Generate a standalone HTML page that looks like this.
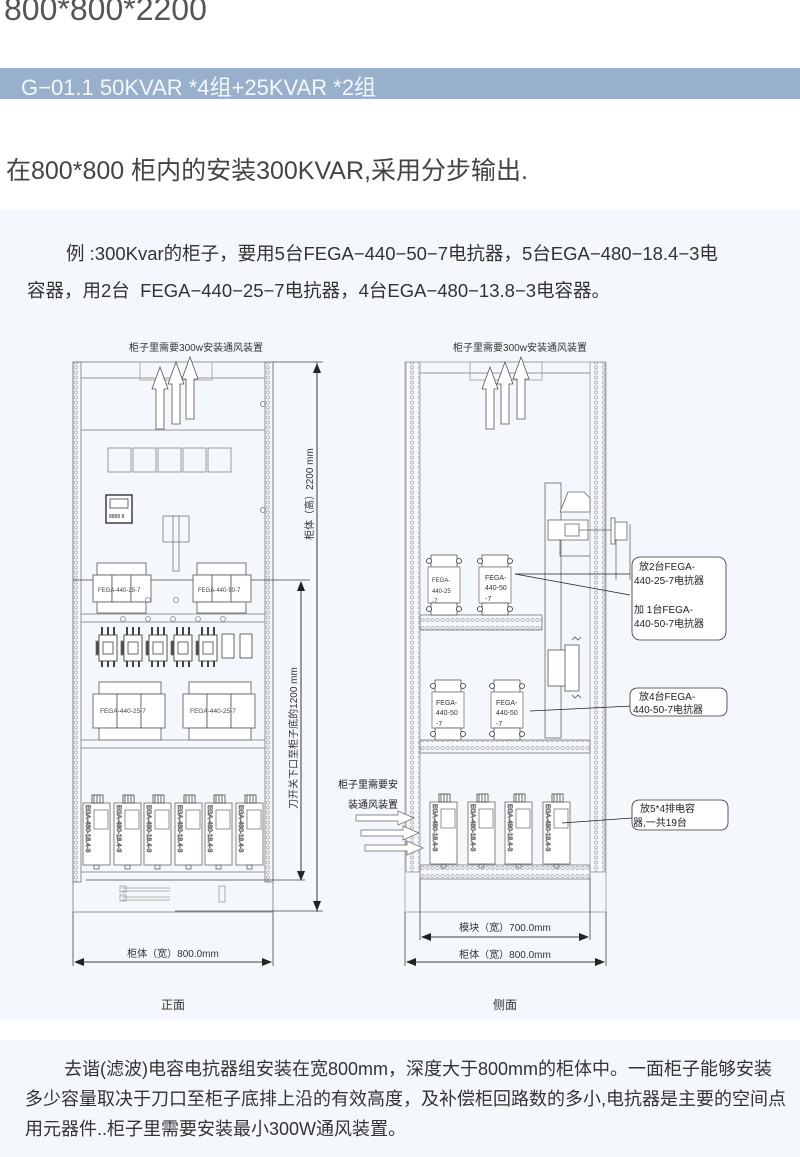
<!DOCTYPE html>
<html><head><meta charset="utf-8"><style>
body{margin:0;width:800px;height:1157px;background:#fff;position:relative;overflow:hidden;font-family:"Liberation Sans","Noto Sans CJK SC",sans-serif;}
.a{position:absolute;white-space:nowrap;}
</style></head><body>
<div class="a" style="left:4px;top:-9px;font-size:32px;color:#555;">800*800*2200</div>
<div class="a" style="left:0;top:68px;width:800px;height:31px;background:#98b0cc;"></div>
<div class="a" style="left:21px;top:70px;font-size:22px;color:#f4f7fb;">G−01.1 50KVAR *4组+25KVAR *2组</div>
<div class="a" style="left:6px;top:151px;font-size:25px;color:#444;">在800*800 柜内的安装300KVAR,采用分步输出.</div>
<div class="a" style="left:0;top:210px;width:800px;height:810px;background:#f4f8fc;"></div>
<div class="a" style="left:0;top:1040px;width:800px;height:117px;background:#f4f8fc;"></div>
<div class="a" style="left:66px;top:240px;font-size:18.5px;color:#333;">例 :300Kvar的柜子，要用5台FEGA−440−50−7电抗器，5台EGA−480−18.4−3电</div>
<div class="a" style="left:27px;top:277px;font-size:18.5px;color:#333;">容器，用2台&nbsp; FEGA−440−25−7电抗器，4台EGA−480−13.8−3电容器。</div>
<div class="a" style="left:64px;top:1055px;font-size:18px;color:#333;">去谐(滤波)电容电抗器组安装在宽800mm，深度大于800mm的柜体中。一面柜子能够安装</div>
<div class="a" style="left:25px;top:1085px;font-size:18px;color:#333;">多少容量取决于刀口至柜子底排上沿的有效高度，及补偿柜回路数的多小,电抗器是主要的空间点</div>
<div class="a" style="left:25px;top:1115px;font-size:18px;color:#333;">用元器件..柜子里需要安装最小300W通风装置。</div>

<svg class="a" style="left:0;top:0" width="800" height="1157" viewBox="0 0 800 1157">
<defs>
<pattern id="dots" width="8" height="5" patternUnits="userSpaceOnUse"><circle cx="4" cy="2.5" r="1.6" fill="none" stroke="#999" stroke-width="0.6"/></pattern>
<pattern id="dotsH" width="5" height="8" patternUnits="userSpaceOnUse"><circle cx="2.5" cy="4" r="1.6" fill="none" stroke="#999" stroke-width="0.6"/></pattern>
<marker id="ar" markerWidth="10" markerHeight="8" refX="9" refY="4" orient="auto" markerUnits="userSpaceOnUse"><path d="M0,0 L10,4 L0,8 Z" fill="#222"/></marker>
<g id="upar"><path d="M-4,0 V-40 H-8 L0,-62 L8,-40 H4 V0 Z" fill="#fff" stroke="#555" stroke-width="0.8"/></g>
<g id="rarr"><path d="M0,-3 H42 V-7 L58,0 L42,7 V3 H0 Z" fill="#fff" stroke="#666" stroke-width="0.7"/></g>
<g id="cont"><rect x="0" y="8" width="18" height="26" fill="#fff" stroke="#444" stroke-width="0.9"/><rect x="4" y="15" width="10" height="12" fill="none" stroke="#444"/><path d="M3,0v8M9,0v8M15,0v8M3,34v6M9,34v6M15,34v6" stroke="#444" stroke-width="2"/><rect x="-3" y="14" width="3" height="14" fill="#444"/></g>
<g id="cap"><rect x="0" y="8" width="27" height="62" fill="#fff" stroke="#666" stroke-width="0.8"/><rect x="9" y="0" width="11" height="8" fill="#fff" stroke="#444"/><path d="M11,0v8M14,0v8M17,0v8" stroke="#444"/><rect x="11" y="15" width="14" height="19" fill="none" stroke="#666" stroke-width="0.7"/><rect x="11" y="70" width="5" height="4" fill="none" stroke="#666"/><text transform="translate(3,10) rotate(90)" font-size="6.5" fill="#333">EGA-480-18.4-3</text></g>
<g id="sreac"><rect x="3" y="0" width="26" height="12" fill="#fff" stroke="#555"/><rect x="0" y="12" width="32" height="36" fill="#fff" stroke="#777" stroke-width="0.8"/><rect x="3" y="48" width="26" height="12" fill="#fff" stroke="#555"/><circle cx="1" cy="6" r="2.5" fill="#fff" stroke="#333"/><circle cx="31" cy="6" r="2.5" fill="#fff" stroke="#333"/><circle cx="1" cy="54" r="2.5" fill="#fff" stroke="#333"/><circle cx="31" cy="54" r="2.5" fill="#fff" stroke="#333"/></g>
</defs>
<g font-family="Liberation Sans, Noto Sans CJK SC, sans-serif" fill="none" stroke="#777" stroke-width="0.8">
<text x="196" y="351" font-size="10" fill="#333" stroke="none" text-anchor="middle">柜子里需要300w安装通风装置</text>
<rect x="73" y="362" width="200" height="550"/>
<rect x="73" y="362" width="8" height="520" fill="url(#dots)"/>
<rect x="265" y="362" width="8" height="520" fill="url(#dots)"/>
<line x1="81" y1="378" x2="265" y2="378"/>
<line x1="81" y1="430" x2="265" y2="430"/>
<rect x="140" y="362" width="72" height="18" stroke="#999"/>
<use href="#upar" x="160" y="429"/><use href="#upar" x="176" y="424"/><use href="#upar" x="190" y="419"/>
<g stroke="#888"><rect x="108" y="448" width="23" height="24"/><rect x="133" y="448" width="23" height="24"/><rect x="158" y="448" width="23" height="24"/><rect x="183" y="448" width="23" height="24"/><rect x="208" y="448" width="23" height="24"/></g>
<rect x="106" y="495" width="26" height="28" stroke="#222" stroke-width="1.3" fill="#fff"/>
<rect x="110" y="499" width="18" height="9" stroke="#444"/>
<text x="109" y="518" font-size="5" fill="#222" stroke="none">8888 8</text>
<rect x="163" y="516" width="26" height="26"/><rect x="173" y="516" width="6" height="55"/>
<circle cx="263" cy="404" r="2.5"/><circle cx="263" cy="510" r="2.5"/>
<line x1="73" y1="580" x2="310" y2="580" stroke="#444"/>
<g id="rx1" stroke="#555"><rect x="97" y="563" width="49" height="12" fill="#fff"/><rect x="93" y="575" width="19" height="27" fill="#fff"/><rect x="112" y="575" width="19" height="27" fill="#fff"/><rect x="131" y="575" width="20" height="27" fill="#fff"/><rect x="97" y="602" width="49" height="11" fill="#fff"/></g>
<text x="98" y="592" font-size="6" fill="#444" stroke="none">FEGA-440-25-7</text>
<use href="#rx1" x="100"/>
<text x="198" y="592" font-size="6" fill="#444" stroke="none">FEGA-440-50-7</text>
<line x1="81" y1="614" x2="265" y2="614"/><line x1="81" y1="622" x2="265" y2="622"/>
<g stroke="#888"><circle cx="123" cy="619" r="2.5"/><circle cx="148" cy="619" r="2.5"/><circle cx="173" cy="619" r="2.5"/><circle cx="198" cy="619" r="2.5"/><circle cx="223" cy="619" r="2.5"/><circle cx="176" cy="600" r="2.5"/><circle cx="148" cy="600" r="2.5"/></g>
<use href="#cont" x="99" y="627"/><use href="#cont" x="124" y="627"/><use href="#cont" x="149" y="627"/><use href="#cont" x="174" y="627"/><use href="#cont" x="199" y="627"/>
<g stroke="#444"><rect x="222" y="634" width="12" height="24" fill="#fff"/><rect x="240" y="634" width="12" height="24" fill="#fff"/></g>
<g id="rx2" stroke="#555"><rect x="99" y="682" width="62" height="12" fill="#fff"/><rect x="93" y="694" width="24" height="34" fill="#fff"/><rect x="117" y="694" width="24" height="34" fill="#fff"/><rect x="141" y="694" width="24" height="34" fill="#fff"/><rect x="99" y="728" width="62" height="12" fill="#fff"/></g>
<text x="100" y="713" font-size="6.5" fill="#444" stroke="none">FEGA-440-25-7</text>
<use href="#rx2" x="90"/>
<text x="190" y="713" font-size="6.5" fill="#444" stroke="none">FEGA-440-25-7</text>
<line x1="81" y1="740" x2="265" y2="740"/><line x1="81" y1="748" x2="265" y2="748"/>
<use href="#cap" x="83" y="795"/><use href="#cap" x="114" y="795"/><use href="#cap" x="144" y="795"/><use href="#cap" x="175" y="795"/><use href="#cap" x="205" y="795"/><use href="#cap" x="236" y="795"/>
<line x1="81" y1="872" x2="265" y2="872"/>
<line x1="86" y1="880" x2="305" y2="880" stroke="#444"/>
<g stroke="#999"><line x1="122" y1="888" x2="170" y2="888"/><line x1="122" y1="891" x2="170" y2="891"/><line x1="122" y1="897" x2="170" y2="897"/><line x1="122" y1="900" x2="170" y2="900"/><rect x="120" y="886" width="6" height="6"/><rect x="120" y="895" width="6" height="6"/><rect x="219" y="886" width="6" height="16"/></g>
<line x1="273" y1="362" x2="323" y2="362" stroke="#444"/>
<line x1="175" y1="911" x2="323" y2="911" stroke="#444"/>
<line x1="317" y1="912" x2="317" y2="364" stroke="#333" marker-end="url(#ar)"/>
<line x1="317" y1="362" x2="317" y2="910" stroke="#333" marker-end="url(#ar)"/>
<text transform="translate(313,494) rotate(-90)" font-size="10" fill="#333" stroke="none" text-anchor="middle">柜体（高）2200 mm</text>
<line x1="301" y1="582" x2="301" y2="880" stroke="#333" marker-end="url(#ar)"/>
<line x1="301" y1="880" x2="301" y2="582" stroke="#333" marker-end="url(#ar)"/>
<text transform="translate(297,738) rotate(-90)" font-size="10" fill="#333" stroke="none" text-anchor="middle">刀开关下口至柜子底的1200 mm</text>
<line x1="73" y1="912" x2="73" y2="966" stroke="#444"/><line x1="273" y1="912" x2="273" y2="966" stroke="#444"/>
<line x1="75" y1="962" x2="271" y2="962" stroke="#333" marker-end="url(#ar)"/>
<line x1="271" y1="962" x2="75" y2="962" stroke="#333" marker-end="url(#ar)"/>
<text x="173" y="957" font-size="10" fill="#333" stroke="none" text-anchor="middle">柜体（宽）800.0mm</text>
<text x="173" y="1009" font-size="12" fill="#333" stroke="none" text-anchor="middle">正面</text>

<text x="520" y="351" font-size="10" fill="#333" stroke="none" text-anchor="middle">柜子里需要300w安装通风装置</text>
<rect x="405" y="362" width="201" height="550" stroke="#999"/>
<rect x="406" y="362" width="14" height="510" fill="url(#dots)" stroke="#999"/>
<rect x="590" y="362" width="15" height="510" fill="url(#dots)" stroke="#999"/>
<line x1="420" y1="373" x2="590" y2="373"/>
<rect x="470" y="362" width="72" height="18" stroke="#999"/>
<use href="#upar" x="490" y="429"/><use href="#upar" x="505" y="424"/><use href="#upar" x="521" y="419"/>
<g stroke="#666"><rect x="545" y="483" width="16" height="255" fill="none"/><path d="M568,492 H584 L590,498 V512 H560 Z" fill="#fff"/><rect x="548" y="520" width="40" height="20" fill="#fff"/><rect x="565" y="524" width="14" height="12" fill="#fff"/><line x1="579" y1="530" x2="612" y2="530"/><rect x="611" y="518" width="4" height="26" fill="#fff"/><rect x="615" y="522" width="12" height="18" fill="#fff"/><line x1="616" y1="540" x2="616" y2="580"/><line x1="630" y1="524" x2="630" y2="580"/><path d="M560,540 V556 H590"/></g>
<rect x="420" y="615" width="122" height="15" fill="url(#dotsH)"/>
<use href="#sreac" x="428" y="555"/><text x="432" y="582" font-size="6" fill="#333" stroke="none">FEGA-</text><text x="432" y="593" font-size="6" fill="#333" stroke="none">440-25</text><text x="432" y="603" font-size="6" fill="#333" stroke="none">-7</text>
<use href="#sreac" x="479" y="555"/><text x="485" y="580" font-size="7" fill="#333" stroke="none">FEGA-</text><text x="485" y="590" font-size="7" fill="#333" stroke="none">440-50</text><text x="485" y="601" font-size="7" fill="#333" stroke="none">-7</text>
<path d="M515,574 L630,574" stroke="#222"/><path d="M515,574 L630,595" stroke="#222"/>
<rect x="632" y="557" width="94" height="83" rx="8" stroke="#333" fill="#fff"/>
<g font-size="10" fill="#222" stroke="none"><text x="639" y="570">放2台FEGA-</text><text x="634" y="584">440-25-7电抗器</text><text x="634" y="613">加 1台FEGA-</text><text x="634" y="627">440-50-7电抗器</text></g>
<g stroke="#555"><rect x="548" y="650" width="30" height="36" fill="#fff"/><rect x="565" y="645" width="14" height="46" fill="#fff"/><path d="M572,640 l3,-3 l3,3 l3,-3 M572,695 l3,3 l3,-3 l3,3"/></g>
<use href="#sreac" x="432" y="680"/><text x="436" y="705" font-size="7" fill="#333" stroke="none">FEGA-</text><text x="436" y="715" font-size="7" fill="#333" stroke="none">440-50</text><text x="436" y="726" font-size="7" fill="#333" stroke="none">-7</text>
<use href="#sreac" x="491" y="680"/><text x="496" y="705" font-size="7" fill="#333" stroke="none">FEGA-</text><text x="496" y="715" font-size="7" fill="#333" stroke="none">440-50</text><text x="496" y="726" font-size="7" fill="#333" stroke="none">-7</text>
<path d="M530,711 L632,706" stroke="#222"/>
<rect x="630" y="688" width="97" height="28" rx="7" stroke="#333" fill="#fff"/>
<g font-size="10" fill="#222" stroke="none"><text x="639" y="700">放4台FEGA-</text><text x="633" y="713">440-50-7电抗器</text></g>
<rect x="420" y="740" width="170" height="13" fill="url(#dotsH)"/>
<use href="#cap" x="430" y="794"/><use href="#cap" x="468" y="794"/><use href="#cap" x="505" y="794"/><use href="#cap" x="543" y="794"/>
<rect x="420" y="865" width="170" height="14" fill="url(#dotsH)"/>
<path d="M562,823 L632,818" stroke="#222"/>
<rect x="632" y="800" width="96" height="30" rx="7" stroke="#333" fill="#fff"/>
<g font-size="10" fill="#222" stroke="none"><text x="640" y="812">放5*4排电容</text><text x="633" y="826">器,一共19台</text></g>
<text x="338" y="788" font-size="10" fill="#222" stroke="none">柜子里需要安</text>
<text x="348" y="808" font-size="10" fill="#222" stroke="none">装通风装置</text>
<use href="#rarr" x="356" y="818"/><use href="#rarr" x="361" y="833"/><use href="#rarr" x="365" y="848"/>
<line x1="420" y1="878" x2="420" y2="940" stroke="#444"/><line x1="590" y1="878" x2="590" y2="940" stroke="#444"/>
<line x1="422" y1="937" x2="588" y2="937" stroke="#333" marker-end="url(#ar)"/>
<line x1="588" y1="937" x2="422" y2="937" stroke="#333" marker-end="url(#ar)"/>
<text x="505" y="931" font-size="10" fill="#333" stroke="none" text-anchor="middle">模块（宽）700.0mm</text>
<line x1="405" y1="912" x2="405" y2="966" stroke="#444"/><line x1="606" y1="912" x2="606" y2="966" stroke="#444"/>
<line x1="407" y1="962" x2="604" y2="962" stroke="#333" marker-end="url(#ar)"/>
<line x1="604" y1="962" x2="407" y2="962" stroke="#333" marker-end="url(#ar)"/>
<text x="505" y="958" font-size="10" fill="#333" stroke="none" text-anchor="middle">柜体（宽）800.0mm</text>
<text x="505" y="1009" font-size="12" fill="#333" stroke="none" text-anchor="middle">侧面</text>
</g>
</svg>
</body></html>
